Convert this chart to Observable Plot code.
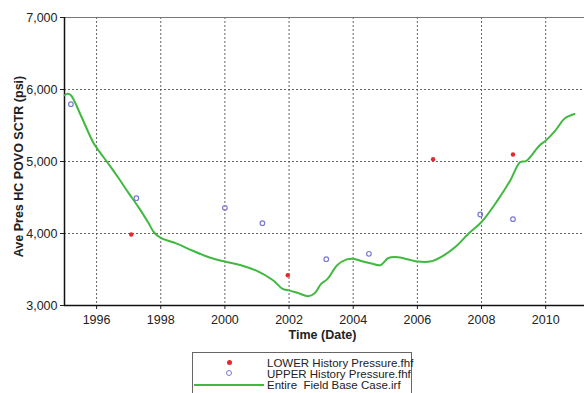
<!DOCTYPE html>
<html>
<head>
<meta charset="utf-8">
<script src="https://cdn.jsdelivr.net/npm/d3@7"></script>
<script src="https://cdn.jsdelivr.net/npm/@observablehq/plot@0.6"></script>
<style>
  html, body { margin: 0; padding: 0; background: #fff; overflow: hidden; }
  #wrap { position: relative; width: 584px; height: 393px; font-family: "Liberation Sans", Arial, sans-serif; }
  #legend { position: absolute; left: 192px; top: 352px; width: 220px; height: 50px; border: 1px solid #666; box-sizing: border-box; background: #fff; }
  .row { position: absolute; left: 0; height: 12px; font-size: 11.5px; line-height: 12px; color: #222; white-space: nowrap; }
  .row span.t { position: absolute; left: 74px; top: 0; }
  .dot { position: absolute; left: 34px; top: 3px; width: 5px; height: 5px; border-radius: 50%; background: #e8262b; }
  .circ { position: absolute; left: 33px; top: 2px; width: 4px; height: 4px; border-radius: 50%; border: 1px solid #7a7ad8; }
  .ln { position: absolute; left: 1px; top: 5px; width: 70px; height: 2px; background: #41b941; }
</style>
</head>
<body>
<div id="wrap">
  <div id="chart"></div>
  <div id="legend">
    <div class="row" style="top:4px"><div class="dot"></div><span class="t">LOWER History Pressure.fhf</span></div>
    <div class="row" style="top:15px"><div class="circ"></div><span class="t">UPPER History Pressure.fhf</span></div>
    <div class="row" style="top:26px"><div class="ln"></div><span class="t">Entire&nbsp; Field Base Case.irf</span></div>
  </div>
</div>
<script>
// Simulation line (Entire Field Base Case)
const lineYears = [1995.0, 1995.1, 1995.2, 1995.5, 1995.9, 1996.1, 1996.4, 1996.7, 1997.0, 1997.3, 1997.6, 1997.8, 1998.0, 1998.5, 1999.0, 1999.5, 2000.0, 2000.5, 2001.0, 2001.5, 2001.8, 2002.0, 2002.3, 2002.6, 2002.8, 2003.0, 2003.2, 2003.5, 2003.8, 2004.0, 2004.3, 2004.6, 2004.85, 2005.1, 2005.4, 2005.8, 2006.0, 2006.4, 2006.8, 2007.2, 2007.6, 2008.0, 2008.5, 2008.9, 2009.2, 2009.4, 2009.8, 2010.0, 2010.3, 2010.6, 2010.9];
const lineValues = [5920, 5940, 5920, 5650, 5260, 5130, 4950, 4760, 4560, 4370, 4160, 4010, 3940, 3860, 3760, 3670, 3610, 3560, 3480, 3350, 3230, 3210, 3170, 3130, 3170, 3300, 3370, 3560, 3640, 3650, 3610, 3580, 3560, 3660, 3670, 3630, 3610, 3610, 3690, 3820, 4000, 4160, 4460, 4740, 4990, 5010, 5220, 5290, 5430, 5600, 5660];
// LOWER History Pressure
const lowerYears = [1997.08, 2001.96, 2006.49, 2008.98];
const lowerValues = [3986, 3421, 5032, 5097];
// UPPER History Pressure
const upperYears = [1995.2, 1997.24, 2000.0, 2001.17, 2003.16, 2004.49, 2007.96, 2008.98];
const upperValues = [5796, 4490, 4357, 4143, 3643, 3718, 4264, 4199];
// Ticks
const xTicks = [1996, 1998, 2000, 2002, 2004, 2006, 2008, 2010];
const yTicks = [3000, 4000, 5000, 6000, 7000];

const lineData = lineYears.map((x, i) => ({x, y: lineValues[i]}));
const lowerData = lowerYears.map((x, i) => ({x, y: lowerValues[i]}));
const upperData = upperYears.map((x, i) => ({x, y: upperValues[i]}));

const fmtY = d => d3.format(",")(d);
const fmtX = d => String(d);

const chart = Plot.plot({
  width: 584,
  height: 345,
  marginTop: 17,
  marginBottom: 40,
  marginLeft: 64,
  marginRight: 0,
  style: {fontFamily: "'Liberation Sans', Arial, sans-serif", fontSize: "12px", color: "#222", background: "#fff"},
  x: {domain: [1995, 2011.21], label: null},
  y: {domain: [3000, 7000], label: null},
  marks: [
    Plot.gridX(xTicks, {stroke: "#555", strokeOpacity: 0.9, strokeDasharray: "2,2", strokeWidth: 1}),
    Plot.gridY(yTicks.filter(d => d > 3000 && d < 7000), {stroke: "#555", strokeOpacity: 0.9, strokeDasharray: "2,2", strokeWidth: 1}),
    Plot.ruleY([7000], {stroke: "#777", strokeWidth: 1.2}),
    Plot.axisX(xTicks, {tickFormat: fmtX, tickSize: 4, tickPadding: 6, fontSize: 12.5, stroke: "#222", label: null}),
    Plot.axisY(yTicks, {tickFormat: fmtY, tickSize: 4, tickPadding: 3, fontSize: 12.5, stroke: "#222", label: null}),
    Plot.ruleX([1995], {stroke: "#111", strokeWidth: 1.5}),
    Plot.ruleY([3000], {stroke: "#111", strokeWidth: 1.5}),
    Plot.line(lineData, {x: "x", y: "y", stroke: "#41b941", strokeWidth: 2, curve: "catmull-rom"}),
    Plot.dot(lowerData, {x: "x", y: "y", r: 2.2, fill: "#e8262b", stroke: "none"}),
    Plot.dot(upperData, {x: "x", y: "y", r: 2.3, fill: "none", stroke: "#7a7ad8", strokeWidth: 1.2}),
    Plot.text(["Ave Pres HC POVO SCTR (psi)"], {frameAnchor: "left", textAnchor: "middle", rotate: -90, dx: -46, dy: 5, fontSize: 12.5, fontWeight: "bold", fill: "#222"}),
    Plot.text(["Time (Date)"], {frameAnchor: "bottom", textAnchor: "middle", dy: 33, dx: -2, fontSize: 12.5, fontWeight: "bold", fill: "#222"})
  ]
});
document.getElementById("chart").appendChild(chart);
</script>
</body>
</html>
